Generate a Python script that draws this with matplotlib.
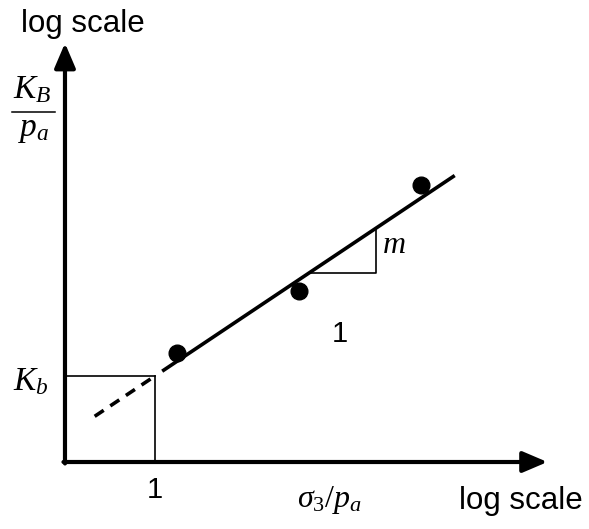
import numpy as np
import matplotlib.pyplot as plt

plt.rcParams["font.family"] = ["Liberation Sans", "DejaVu Sans"]
plt.rcParams["mathtext.fontset"] = "custom"
plt.rcParams["mathtext.rm"] = "Liberation Serif"
plt.rcParams["mathtext.it"] = "Liberation Serif:italic"

# schematic values, in log units (x = log sigma3/pa, y = log KB/pa)
Kb = 1.0          # intercept at sigma3/pa = 1
m = 0.70          # slope
x_fit = [1.08, 4.33]
x_dash = [0.33, 1.0]
pts_x = [1.24, 2.60, 3.96]
pts_y = [1.27, 1.99, 3.22]
tri_x = [2.71, 3.46]

x_end = 5.36
y_end = 4.87

line = lambda x: Kb + m * (np.asarray(x) - 1.0)

fig = plt.figure(figsize=(5.89, 5.29), dpi=100)
ax = fig.add_axes([0, 0, 1, 1])
ax.set_xlim(-0.722, 5.822)
ax.set_ylim(-0.779, 5.372)
ax.axis("off")

# axes with arrow heads
arr = dict(arrowstyle="-|>,head_length=0.75,head_width=0.32", lw=3.0, color="k",
           mutation_scale=20, shrinkA=0, shrinkB=0)
ax.annotate("", xy=(x_end, 0), xytext=(-0.017, 0), arrowprops=arr)
ax.annotate("", xy=(0, y_end), xytext=(0, -0.017), arrowprops=arr)

# reference lines at sigma3/pa = 1
ax.plot([0, 1], [Kb, Kb], color="k", lw=1.2)
ax.plot([1, 1], [0, Kb], color="k", lw=1.2)

# fitted line and its extrapolation
ax.plot(x_fit, line(x_fit), color="k", lw=2.6, solid_capstyle="butt")
ax.plot(x_dash, line(x_dash), color="k", lw=2.6, ls=(0, (3.0, 2.2)), dash_capstyle="butt")

# slope triangle
ax.plot([tri_x[0], tri_x[1], tri_x[1]],
        [line(tri_x[0]), line(tri_x[0]), line(tri_x[1])], color="k", lw=1.2)

ax.plot(pts_x, pts_y, "o", color="k", ms=12)

# labels
ax.text(0.2, 5.09, "log scale", fontsize=22.5, ha="center", va="center")
ax.text(5.06, -0.45, "log scale", fontsize=22.5, ha="center", va="center")
ax.text(1.0, -0.33, "1", fontsize=21, ha="center", va="center")
ax.text(3.05, 1.49, "1", fontsize=21, ha="center", va="center")
ax.text(3.52, 2.52, r"$m$", fontsize=23, ha="left", va="center")
ax.text(-0.38, 0.93, r"$K_b$", fontsize=24, ha="center", va="center")
ax.text(-0.36, 4.23, r"$K_B$", fontsize=24, ha="center", va="baseline")
ax.plot([-0.59, -0.11], [4.07, 4.07], color="k", lw=1.1)
ax.text(-0.35, 3.79, r"$p_a$", fontsize=24, ha="center", va="baseline")
ax.text(2.94, -0.44, r"$\sigma_3/p_a$", fontsize=23, ha="center", va="center")

fig.savefig("out.png", dpi=100)
